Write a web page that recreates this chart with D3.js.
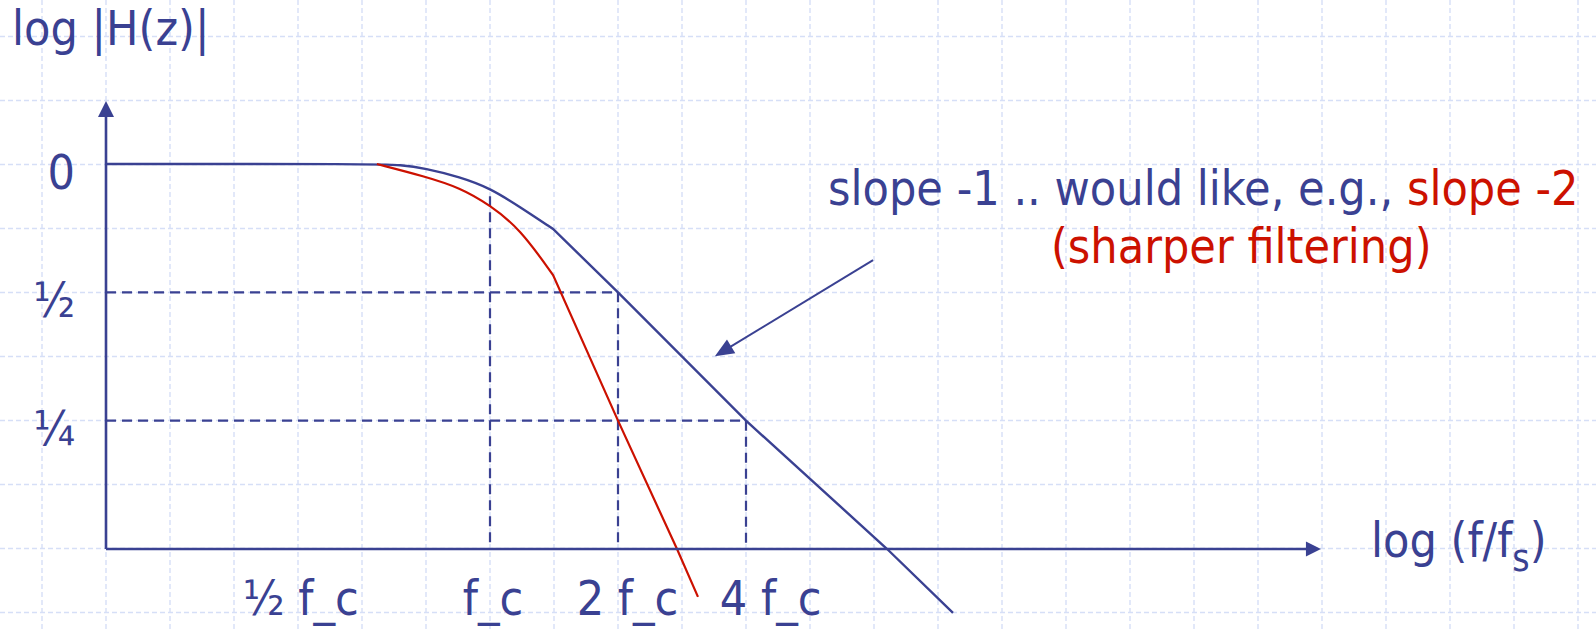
<!DOCTYPE html>
<html><head><meta charset="utf-8">
<script src="https://cdn.jsdelivr.net/npm/d3@7"></script>
<style>
body{margin:0;background:#fff}
svg{display:block}
text{font-family:"DejaVu Sans Condensed","DejaVu Sans",sans-serif;font-stretch:condensed}
</style>
</head><body>
<svg id="c" width="1596" height="629"></svg>
<script>
// ---- data (f in units of f_c, H = |H(z)|, plotted on log2 axes) ----
const yTickValues = [1, 0.5, 0.25];
const yTickLabels = ["0", "½", "¼"];
const xTickValues = [0.358, 1.014, 2.10, 4.56];   // where the labels sit
const xTickLabels = ["½ f_c", "f_c", "2 f_c", "4 f_c"];

const blueF = [0.125, 0.542, 0.614, 0.703, 0.850, 1, 1.176, 1.407, 2, 4, 8.59, 12.27];
const blueH = [1, 1, 0.995, 0.978, 0.932, 0.878, 0.793, 0.704, 0.5, 0.25, 0.125, 0.0885];
const blueCorner = 7;

const redF = [0.542, 0.703, 0.850, 1, 1.176, 1.407, 2, 2.753, 3.084];
const redH = [1, 0.935, 0.880, 0.801, 0.705, 0.549, 0.25, 0.125, 0.0965];
const redCorner = 5;

const guideVF = [1, 2, 4];
const guideVTop = [0.84, 0.5, 0.25];
const guideHH = [0.5, 0.25];
const guideHEnd = [2, 4];

const arrowFrom = [7.96, 0.595];
const arrowTo = [3.38, 0.354];

const NAVY = "#3a4192", RED = "#cc1100", GRID = "#d6dff7";
const FS = 48;

const svg = d3.select("#c");

// background grid (decorative)
const g0 = svg.append("g").attr("stroke", GRID).attr("stroke-width", 1.4).attr("stroke-dasharray", "5,3");
d3.range(42, 1596, 64).forEach(x => g0.append("line").attr("x1", x).attr("x2", x).attr("y1", 0).attr("y2", 629));
d3.range(36.5, 629, 64).forEach(y => g0.append("line").attr("x1", 0).attr("x2", 1596).attr("y1", y).attr("y2", y));

// scales (log base 2)
const x = d3.scaleLog().base(2).domain([0.125, 1]).range([106, 490]);
const y = d3.scaleLog().base(2).domain([0.125, 1]).range([549, 164]);
const yMin = 0.125, xMin = 0.125, yAxisTop = 1.405, xAxisEnd = 90;

// dashed guides
const gd = svg.append("g").attr("stroke", NAVY).attr("stroke-width", 2.2).attr("stroke-dasharray", "10,6");
guideVF.forEach((f, i) => gd.append("line").attr("x1", x(f)).attr("x2", x(f)).attr("y1", y(guideVTop[i])).attr("y2", y(yMin)));
guideHH.forEach((h, i) => gd.append("line").attr("x1", x(xMin)).attr("x2", x(guideHEnd[i])).attr("y1", y(h)).attr("y2", y(h)));

// curves: smooth knee then straight asymptote
function curvePath(F, H, k) {
  const pts = F.map((f, i) => [x(f), y(H[i])]);
  const smooth = d3.line().curve(d3.curveBasis)(pts.slice(0, k + 1));
  const straight = d3.line()(pts.slice(k));
  return smooth + "L" + straight.slice(1);
}
svg.append("path").attr("d", curvePath(blueF, blueH, blueCorner)).attr("fill", "none").attr("stroke", NAVY).attr("stroke-width", 2.4);
svg.append("path").attr("d", curvePath(redF, redH, redCorner)).attr("fill", "none").attr("stroke", RED).attr("stroke-width", 2.2);

// axes lines with arrowheads
function arrow(x1, y1, x2, y2, len, hw, w) {
  const dx = x2 - x1, dy = y2 - y1, L = Math.hypot(dx, dy), ux = dx / L, uy = dy / L;
  const bx = x2 - ux * len, by = y2 - uy * len;
  svg.append("line").attr("x1", x1).attr("y1", y1).attr("x2", bx + ux * 2).attr("y2", by + uy * 2)
    .attr("stroke", NAVY).attr("stroke-width", w);
  svg.append("path").attr("d", `M${x2},${y2}L${bx - uy * hw},${by + ux * hw}L${bx + uy * hw},${by - ux * hw}Z`).attr("fill", NAVY);
}
arrow(x(xMin), y(yMin), x(xMin), y(yAxisTop), 16, 8, 2.6);
arrow(x(xMin), y(yMin), x(xAxisEnd), y(yMin), 15, 7.5, 2.6);
arrow(x(arrowFrom[0]), y(arrowFrom[1]), x(arrowTo[0]), y(arrowTo[1]), 19, 8, 2);

// tick labels via d3 axes
const ay = svg.append("g").attr("transform", `translate(${x(xMin)},0)`)
  .call(d3.axisLeft(y).tickValues(yTickValues).tickSize(0).tickPadding(31).tickFormat((d, i) => yTickLabels[i]));
ay.select(".domain").remove();
ay.selectAll("text").attr("fill", NAVY).attr("font-size", FS).attr("font-family", null).attr("dy", "0.5em");

const ax = svg.append("g").attr("transform", `translate(0,${y(yMin)})`)
  .call(d3.axisBottom(x).tickValues(xTickValues).tickSize(0).tickPadding(32).tickFormat((d, i) => xTickLabels[i]));
ax.select(".domain").remove();
ax.selectAll("text").attr("fill", NAVY).attr("font-size", FS).attr("font-family", null);

// titles
svg.append("text").attr("x", 12).attr("y", 45).attr("fill", NAVY).attr("font-size", FS).text("log |H(z)|");
const xl = svg.append("text").attr("x", 1371).attr("y", 557).attr("fill", NAVY).attr("font-size", FS);
xl.append("tspan").text("log (f/f");
xl.append("tspan").attr("dy", 14).attr("font-size", 37).text("s");
xl.append("tspan").attr("dy", -14).text(")");

// annotation
const t1 = svg.append("text").attr("x", 828).attr("y", 205).attr("font-size", FS);
t1.append("tspan").attr("fill", NAVY).text("slope -1 .. would like, e.g., ");
t1.append("tspan").attr("fill", RED).text("slope -2");
svg.append("text").attr("x", 1051).attr("y", 263).attr("font-size", FS).attr("fill", RED).text("(sharper filtering)");
</script>
</body></html>
